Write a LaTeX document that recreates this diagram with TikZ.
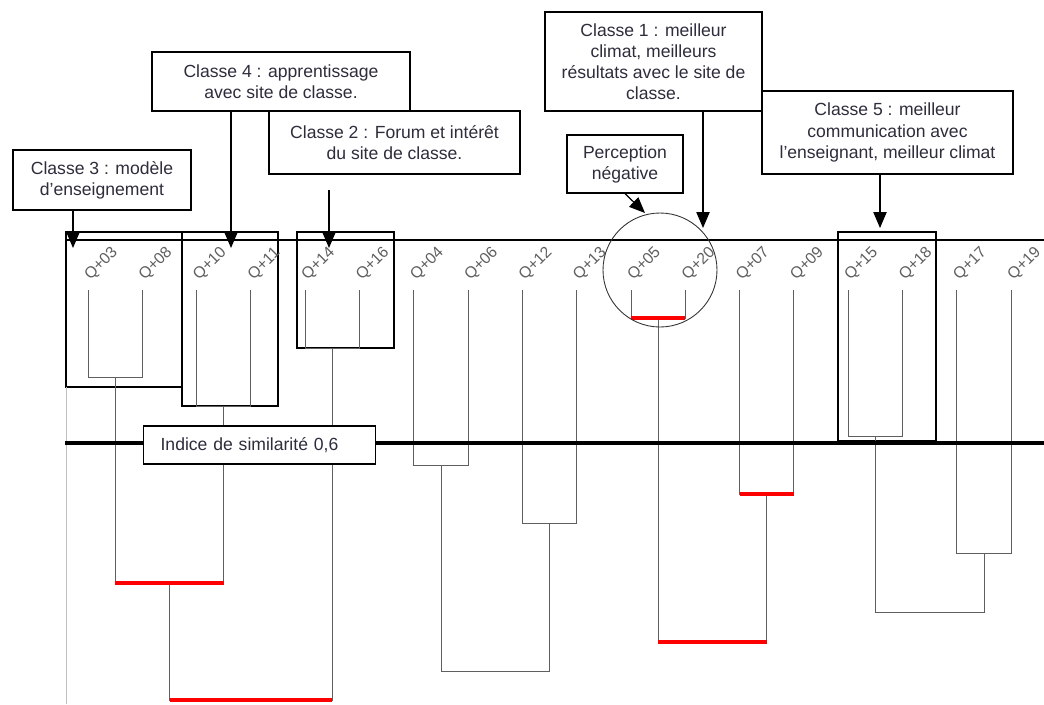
\documentclass[tikz,border=0pt]{standalone}
\usepackage{fontspec}
\setmainfont{Liberation Sans}
\usetikzlibrary{arrows.meta}
\definecolor{txtgray}{RGB}{45,45,60}
\definecolor{treegray}{RGB}{95,95,95}

\begin{document}
\begin{tikzpicture}[x=0.02cm, y=-0.02cm,
	note/.style = {draw, fill=white, line width=0.7pt, align=center, inner sep=0pt, text=txtgray, font=\fontsize{10}{12}\selectfont},
	classbox/.style = {draw, line width=0.6pt},
	branch/.style = {treegray, line width=0.5pt},
	cut/.style = {red, line width=2.2pt},
	pointer/.style = {line width=0.7pt, -{Triangle[width=7.5pt, length=9pt]}},
	leaf/.style = {rotate=45, inner sep=0pt, text=treegray, font=\fontsize{9}{10}\selectfont}]
	
	\useasboundingbox (0,0) rectangle (1044,704);
	
	% boxes round the classes
	\draw[classbox] (66,232) rectangle (182,387);
	\draw[classbox] (182,232) rectangle (278,406);
	\draw[classbox] (297,232) rectangle (394,348);
	\draw[classbox] (838,232) rectangle (936,441);
	\draw[gray!50, line width=0.4pt] (66,387) -- (66,704);
	
	\draw[line width=1pt] (65,240) to (1044,240);
	
	% leaves
	\foreach \q [count=\i] in {03,08,10,11,14,16,04,06,12,13,05,20,07,09,15,18,17,19} {
		\coordinate (l\i) at ({88+54.3*(\i-1)}, 290);
		\node[leaf] (q\i) at ({101.5+54.3*(\i-1)}, 264) {Q+\q};
	}
	
	% merges
	\coordinate (mA) at (115.2, 377);
	\coordinate (mB) at (223.8, 406);
	\coordinate (mC) at (332.4, 348);
	\coordinate (mD) at (441, 465);
	\coordinate (mE) at (549.6, 523);
	\coordinate (mF) at (658.2, 318);
	\coordinate (mG) at (766.8, 494);
	\coordinate (mH) at (875.4, 436);
	\coordinate (mI) at (984, 553);
	\coordinate (mJ) at (169.5, 583);
	\coordinate (mK) at (251, 700);
	\coordinate (mL) at (495.3, 671);
	\coordinate (mM) at (712.5, 642);
	\coordinate (mN) at (929.7, 612);
	
	\draw[branch] (l1) |- (mA) -| (l2);
	\draw[branch] (l3) |- (mB) -| (l4);
	\draw[branch] (l5) |- (mC) -| (l6);
	\draw[branch] (l7) |- (mD) -| (l8);
	\draw[branch] (l9) |- (mE) -| (l10);
	\draw[branch] (l11) |- (mF) -| (l12);
	\draw[branch] (l13) |- (mG) -| (l14);
	\draw[branch] (l15) |- (mH) -| (l16);
	\draw[branch] (l17) |- (mI) -| (l18);
	\draw[branch] (mA) |- (mJ) -| (mB);
	\draw[branch] (mJ) |- (mK) -| (mC);
	\draw[branch] (mD) |- (mL) -| (mE);
	\draw[branch] (mF) |- (mM) -| (mG);
	\draw[branch] (mH) |- (mN) -| (mI);
	
	\draw[cut] (l11 |- mF) -- (l12 |- mF);
	\draw[cut] (l13 |- mG) -- (l14 |- mG);
	\draw[cut] (mA |- mJ) -- (mB |- mJ);
	\draw[cut] (mJ |- mK) -- (mC |- mK);
	\draw[cut] (mF |- mM) -- (mG |- mM);
	
	% cut at 0,6
	\draw[line width=2.5pt] (65,443) to (1044,443);
	\node[note, anchor=west, align=left, inner xsep=0.34cm, text width=3.96cm, minimum height=0.76cm] (sim) at (143,445) {Indice de similarité 0,6};
	
	\draw[line width=0.5pt, black!80] (660,270) circle (57);
	
	% notes
	\node[note, minimum width=3.56cm, minimum height=1.2cm] (c3) at (102,180) {Classe 3 : modèle\\d’enseignement};
	\node[note, minimum width=5.16cm, minimum height=1.18cm] (c4) at (281,81.5) {Classe 4 : apprentissage\\avec site de classe.};
	\node[note, minimum width=5.02cm, minimum height=1.26cm] (c2) at (394.5,142.5) {Classe 2 : Forum et intérêt\\du site de classe.};
	\node[note, minimum width=4.34cm, minimum height=1.98cm] (c1) at (653.5,61.5) {Classe 1 : meilleur\\climat, meilleurs\\résultats avec le site de\\classe.};
	\node[note, minimum width=5.02cm, minimum height=1.66cm] (c5) at (887.5,132.5) {Classe 5 : meilleur\\communication avec\\l’enseignant, meilleur climat};
	\node[note, minimum width=2.32cm, minimum height=1.16cm] (pn) at (625,164) {Perception\\négative};
	
	\coordinate (t3) at (73, 248);
	\coordinate (t4) at (231, 248);
	\coordinate (s2) at (329, 190);
	\coordinate (t2) at (329, 248);
	\coordinate (t1) at (703, 228);
	\coordinate (t5) at (880, 228);
	\coordinate (t6) at (645, 213);
	
	\draw[pointer] (c3.south -| t3) to (t3);
	\draw[pointer] (c4.south -| t4) to (t4);
	\draw[pointer] (s2) to (t2);
	\draw[pointer] (c1.south -| t1) to (t1);
	\draw[pointer] (c5.south -| t5) to (t5);
	\draw[pointer] (pn.south) to (t6);
\end{tikzpicture}
\end{document}
